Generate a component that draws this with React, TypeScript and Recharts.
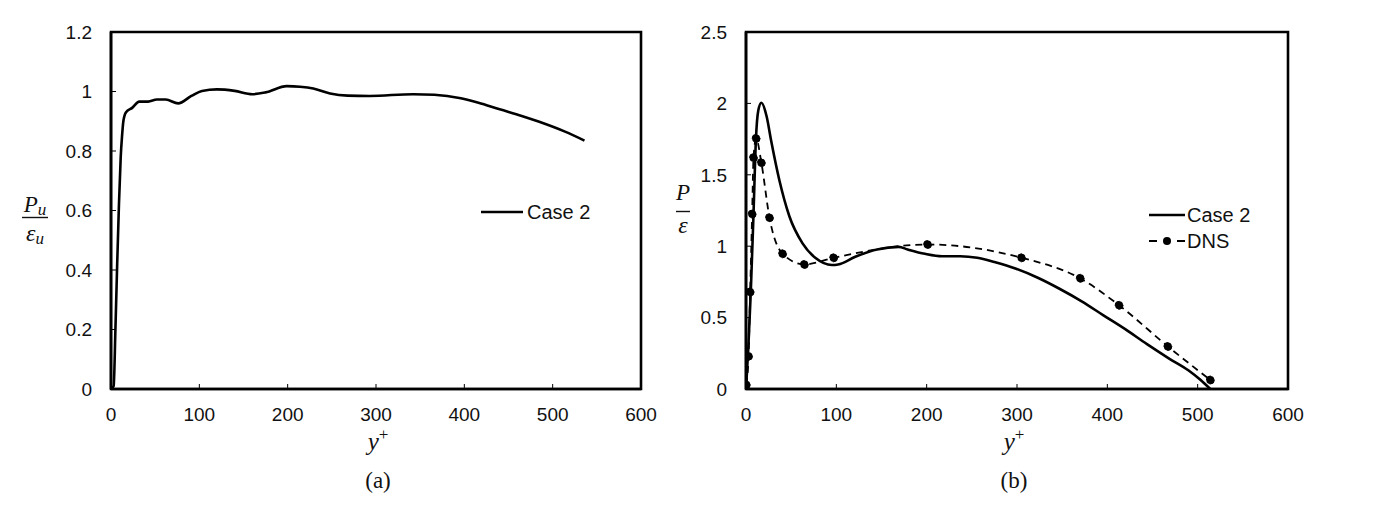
import React from "react";
import { LineChart, Line, XAxis, YAxis, ReferenceArea, Legend } from "recharts";

// ---------- data ----------
// (a) Case 2: P_u / eps_u
const yPlusA = [0, 3, 5, 7, 9, 11, 12.5, 14, 17, 24, 32, 42, 52, 62, 76, 91, 103, 120, 140, 160, 175, 199, 214, 229, 248, 268, 293, 342, 366, 396, 416, 440, 465, 484, 514, 536];
const ratioA = [0, 0.01, 0.2, 0.42, 0.62, 0.78, 0.85, 0.9, 0.93, 0.945, 0.966, 0.966, 0.973, 0.973, 0.96, 0.985, 1.002, 1.007, 1.002, 0.991, 0.997, 1.018, 1.016, 1.01, 0.993, 0.986, 0.985, 0.991, 0.989, 0.977, 0.962, 0.94, 0.918, 0.899, 0.865, 0.835];

// (b) Case 2: P / eps
const yPlusB = [0, 2.5, 5.3, 8.3, 11, 13.6, 17, 22.8, 27.8, 37, 48, 62.6, 77.4, 95, 102, 121, 145, 169, 179, 198, 217, 237, 256, 275, 299, 323, 347, 371.6, 395.7, 419.8, 443.9, 468, 490, 503, 514];
const ratioB = [0, 0.28, 0.68, 1.225, 1.75, 1.95, 2.005, 1.91, 1.74, 1.46, 1.21, 1.02, 0.915, 0.868, 0.872, 0.926, 0.977, 0.995, 0.977, 0.947, 0.93, 0.93, 0.919, 0.889, 0.842, 0.779, 0.702, 0.614, 0.516, 0.419, 0.314, 0.215, 0.13, 0.065, 0];

// (b) DNS: P / eps
const yPlusDNS = [0.3, 2.8, 4.6, 6.8, 8.3, 11.2, 17, 26, 40.5, 64.6, 97, 201, 305, 370, 413, 467, 514];
const ratioDNS = [0.03, 0.23, 0.68, 1.225, 1.62, 1.755, 1.585, 1.2, 0.947, 0.872, 0.919, 1.012, 0.919, 0.775, 0.586, 0.298, 0.063];

const xTicks = [0, 100, 200, 300, 400, 500, 600];
const yTicksA = [0, 0.2, 0.4, 0.6, 0.8, 1, 1.2];
const yTicksB = [0, 0.5, 1, 1.5, 2, 2.5];

const seriesA = [{ name: "Case 2", kind: "solid" }];
const seriesB = [
  { name: "Case 2", kind: "solid" },
  { name: "DNS", kind: "dash" },
];

const dataA = yPlusA.map((x, i) => ({ x, y: ratioA[i] }));
const dataB = yPlusB.map((x, i) => ({ x, y: ratioB[i] }));
const dataDNS = yPlusDNS.map((x, i) => ({ x, y: ratioDNS[i] }));

// ---------- styles ----------
const SANS = "'Liberation Sans', Arial, sans-serif";
const SERIF = "'Liberation Serif', 'Times New Roman', serif";
const tickStyle = { fill: "#111", fontSize: 19, fontFamily: SANS };
const AXIS_W = 2.6;

const makeLegend = (items: { name: string; kind: string }[], lineW: number, gap: number) => () => (
  <div style={{ fontFamily: SANS, fontSize: 20, color: "#111" }}>
    {items.map((it) => (
      <div key={it.name} style={{ display: "flex", alignItems: "center", height: 26 }}>
        <svg width={lineW} height={26} style={{ display: "block" }}>
          {it.kind === "solid" ? (
            <line x1={0} x2={lineW} y1={13} y2={13} stroke="#000" strokeWidth={2.6} />
          ) : (
            <g>
              <line x1={0} x2={8} y1={13} y2={13} stroke="#000" strokeWidth={2} />
              <circle cx={18} cy={13} r={4} fill="#000" />
              <line x1={28} x2={36} y1={13} y2={13} stroke="#000" strokeWidth={2} />
            </g>
          )}
        </svg>
        <span style={{ marginLeft: gap, lineHeight: "26px", whiteSpace: "nowrap" }}>{it.name}</span>
      </div>
    ))}
  </div>
);

function LeftChart() {
  return (
    <LineChart
      width={680}
      height={508}
      margin={{ top: 32, right: 39, bottom: 79, left: 51 }}
    >
      <XAxis
        dataKey="x"
        type="number"
        domain={[0, 600]}
        ticks={xTicks}
        height={40}
        tickSize={-5}
        tickMargin={24}
        axisLine={{ stroke: "#000", strokeWidth: AXIS_W }}
        tickLine={{ stroke: "#000", strokeWidth: 1 }}
        tick={tickStyle}
        allowDataOverflow
      />
      <YAxis
        type="number"
        domain={[0, 1.2]}
        ticks={yTicksA}
        width={60}
        tickSize={-5}
        tickMargin={24}
        axisLine={{ stroke: "#000", strokeWidth: AXIS_W }}
        tickLine={{ stroke: "#000", strokeWidth: 1 }}
        tick={tickStyle}
        allowDataOverflow
      />
      <ReferenceArea x1={0} x2={600} y1={0} y2={1.2} fill="none" stroke="#000" strokeWidth={AXIS_W} />
      <Line
        data={dataA}
        dataKey="y"
        name="Case 2"
        type="monotone"
        stroke="#000"
        strokeWidth={2.6}
        dot={false}
        isAnimationActive={false}
      />
      <Legend
        layout="vertical"
        align="center"
        verticalAlign="middle"
        content={makeLegend(seriesA, 42, 4)}
        wrapperStyle={{ left: 481, top: 199, width: "auto" }}
      />
    </LineChart>
  );
}

function RightChart() {
  return (
    <LineChart
      width={695}
      height={508}
      margin={{ top: 32, right: 87, bottom: 79, left: 6 }}
    >
      <XAxis
        dataKey="x"
        type="number"
        domain={[0, 600]}
        ticks={xTicks}
        height={40}
        tickSize={-5}
        tickMargin={24}
        axisLine={{ stroke: "#000", strokeWidth: AXIS_W }}
        tickLine={{ stroke: "#000", strokeWidth: 1 }}
        tick={tickStyle}
        allowDataOverflow
      />
      <YAxis
        type="number"
        domain={[0, 2.5]}
        ticks={yTicksB}
        width={60}
        tickSize={-5}
        tickMargin={24}
        axisLine={{ stroke: "#000", strokeWidth: AXIS_W }}
        tickLine={{ stroke: "#000", strokeWidth: 1 }}
        tick={tickStyle}
        allowDataOverflow
      />
      <ReferenceArea x1={0} x2={600} y1={0} y2={2.5} fill="none" stroke="#000" strokeWidth={AXIS_W} />
      <Line
        data={dataB}
        dataKey="y"
        name="Case 2"
        type="monotone"
        stroke="#000"
        strokeWidth={2.6}
        dot={false}
        isAnimationActive={false}
      />
      <Line
        data={dataDNS}
        dataKey="y"
        name="DNS"
        type="monotone"
        stroke="#000"
        strokeWidth={1.8}
        strokeDasharray="7 5"
        dot={{ r: 4, fill: "#000", stroke: "#000", strokeWidth: 1 }}
        isAnimationActive={false}
      />
      <Legend
        layout="vertical"
        align="center"
        verticalAlign="middle"
        content={makeLegend(seriesB, 36, 2)}
        wrapperStyle={{ left: 469, top: 202, width: "auto" }}
      />
    </LineChart>
  );
}

function Labels() {
  const ital = { fontFamily: SERIF, fontStyle: "italic" as const, fill: "#111" };
  return (
    <svg
      width={1375}
      height={508}
      style={{ position: "absolute", left: 0, top: 0, pointerEvents: "none" }}
    >
      {/* (a) y label: P_u / eps_u */}
      <text x={35} y={212} textAnchor="middle" fontSize={23} {...ital}>
        P<tspan fontSize={17} dy={3}>u</tspan>
      </text>
      <line x1={22} x2={48} y1={217.5} y2={217.5} stroke="#111" strokeWidth={1.4} />
      <text x={35} y={241} textAnchor="middle" fontSize={24} {...ital}>
        ε<tspan fontSize={17} dy={3}>u</tspan>
      </text>

      {/* (b) y label: P / eps */}
      <text x={683} y={200} textAnchor="middle" fontSize={23} {...ital}>P</text>
      <line x1={676} x2={690} y1={211.5} y2={211.5} stroke="#111" strokeWidth={1.4} />
      <text x={683} y={233} textAnchor="middle" fontSize={24} {...ital}>ε</text>

      {/* x labels */}
      <text x={378} y={450} textAnchor="middle" fontSize={25} {...ital}>
        y<tspan fontSize={17} dy={-10} fontStyle="normal">+</tspan>
      </text>
      <text x={1014} y={450} textAnchor="middle" fontSize={25} {...ital}>
        y<tspan fontSize={17} dy={-10} fontStyle="normal">+</tspan>
      </text>
      <text x={378} y={488} textAnchor="middle" fontSize={23} fontFamily={SERIF} fill="#111">(a)</text>
      <text x={1014} y={488} textAnchor="middle" fontSize={23} fontFamily={SERIF} fill="#111">(b)</text>
    </svg>
  );
}

export default function App() {
  return (
    <div
      style={{
        position: "absolute",
        left: 0,
        top: 0,
        width: 1375,
        height: 508,
        background: "#fff",
        overflow: "hidden",
      }}
    >
      <div style={{ position: "absolute", left: 0, top: 0 }}>
        <LeftChart />
      </div>
      <div style={{ position: "absolute", left: 680, top: 0 }}>
        <RightChart />
      </div>
      <Labels />
    </div>
  );
}
